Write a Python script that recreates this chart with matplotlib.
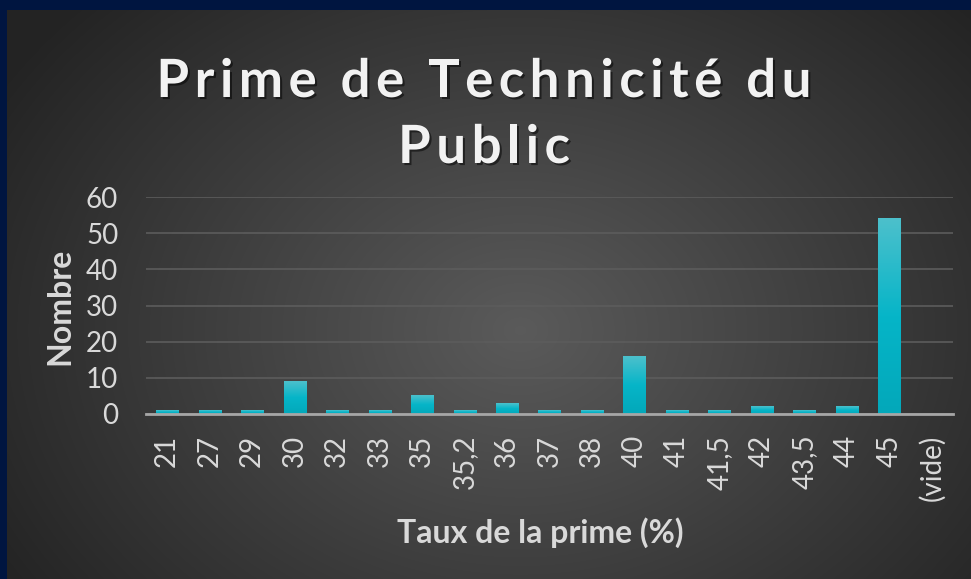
import numpy as np
import matplotlib
matplotlib.use("Agg")
import matplotlib.pyplot as plt
from matplotlib.patches import Rectangle
import matplotlib.patheffects as pe

categories = ["21", "27", "29", "30", "32", "33", "35", "35,2", "36", "37",
              "38", "40", "41", "41,5", "42", "43,5", "44", "45", "(vide)"]
counts = [1, 1, 1, 9, 1, 1, 5, 1, 3, 1, 1, 16, 1, 1, 2, 1, 2, 54, 0]
yticks = [0, 10, 20, 30, 40, 50, 60]

title_lines = ["Prime de Technicité du", "Public"]
xlabel = "Taux de la prime (%)"
ylabel = "Nombre"

plt.rcParams["font.family"] = ["Lato", "DejaVu Sans"]
text_col = "#d9d9d9"

W, H = 971, 579
fig = plt.figure(figsize=(W / 100, H / 100), dpi=100)

# radial gradient background
bg = fig.add_axes([0, 0, 1, 1])
bg.set_axis_off()
yy, xx = np.mgrid[0:H, 0:W]
r = np.sqrt(((xx - 520) / 620.0) ** 2 + ((yy - 330) / 480.0) ** 2)
shade = np.clip(0.355 - 0.22 * r, 0.14, 0.36)
bg.imshow(np.dstack([shade] * 3), extent=[0, W, H, 0], aspect="auto")
bg.set_xlim(0, W)
bg.set_ylim(H, 0)
bg.add_patch(Rectangle((0, 0), W, 10, color="#001540", lw=0))
bg.add_patch(Rectangle((0, 0), 7, H, color="#001540", lw=0))

ax = fig.add_axes([146 / W, 1 - 414 / H, 807 / W, 217 / H])
ax.patch.set_alpha(0)
x = np.arange(len(categories))
bw = 0.52

# shadow bars underneath, then gradient fill on top
ax.bar(x, counts, width=bw, color="#00adc0", zorder=2,
       path_effects=[pe.SimplePatchShadow(offset=(0, -1), shadow_rgbFace="black", alpha=0.45),
                     pe.Normal()])
grad = np.linspace(0, 1, 100).reshape(-1, 1)
cmap = matplotlib.colors.LinearSegmentedColormap.from_list(
    "bar", ["#03a8ba", "#06b5c8", "#4cc0cc"])
for xi, c in zip(x, counts):
    if c > 0:
        ax.imshow(grad, cmap=cmap, origin="lower", aspect="auto", zorder=3,
                  extent=[xi - bw / 2, xi + bw / 2, 0, c])

ax.set_xlim(-0.5, len(categories) - 0.5)
ax.set_ylim(0, 60)
ax.set_yticks(yticks)
ax.set_yticklabels([str(v) for v in yticks])
ax.set_xticks(x)
ax.set_xticklabels(categories, rotation=90)
ax.grid(axis="y", color="#5c5c5c", lw=1.2, zorder=0)
ax.set_axisbelow(True)
for s in ["top", "right", "left"]:
    ax.spines[s].set_visible(False)
ax.spines["bottom"].set_color("#a6a6a6")
ax.spines["bottom"].set_linewidth(2)
ax.spines["bottom"].set_zorder(4)
ax.tick_params(axis="both", length=0, labelsize=20, colors=text_col)
ax.tick_params(axis="y", pad=20)
ax.tick_params(axis="x", pad=15)

fig.text(60 / W, 1 - 306 / H, ylabel, rotation=90, ha="center", va="center",
         fontsize=23, fontweight="bold", color=text_col)
fig.text(540 / W, 1 - 533 / H, xlabel, ha="center", va="center",
         fontsize=23, fontweight="bold", color=text_col)

# title with letter spacing, drawn one glyph at a time
renderer = fig.canvas.get_renderer()
tkw = dict(fontsize=38, fontweight="bold", color="#f2f2f2", va="baseline", ha="left")
shadow = [pe.withSimplePatchShadow(offset=(1.5, -1.5), shadow_rgbFace="black", alpha=0.5)]


def text_width(s):
    t = fig.text(0, 0, s + "|", **tkw)
    w = t.get_window_extent(renderer).width
    t.remove()
    t = fig.text(0, 0, "|", **tkw)
    w -= t.get_window_extent(renderer).width
    t.remove()
    return w


spacing = 5.5
for line, base in zip(title_lines, [97, 163]):
    total = text_width(line) + spacing * (len(line) - 1)
    x0 = 484 - total / 2
    for i, ch in enumerate(line):
        if ch == " ":
            continue
        px = x0 + text_width(line[:i]) + spacing * i
        fig.text(px / W, 1 - base / H, ch, path_effects=shadow, **tkw)

fig.savefig("out.png", dpi=100)
